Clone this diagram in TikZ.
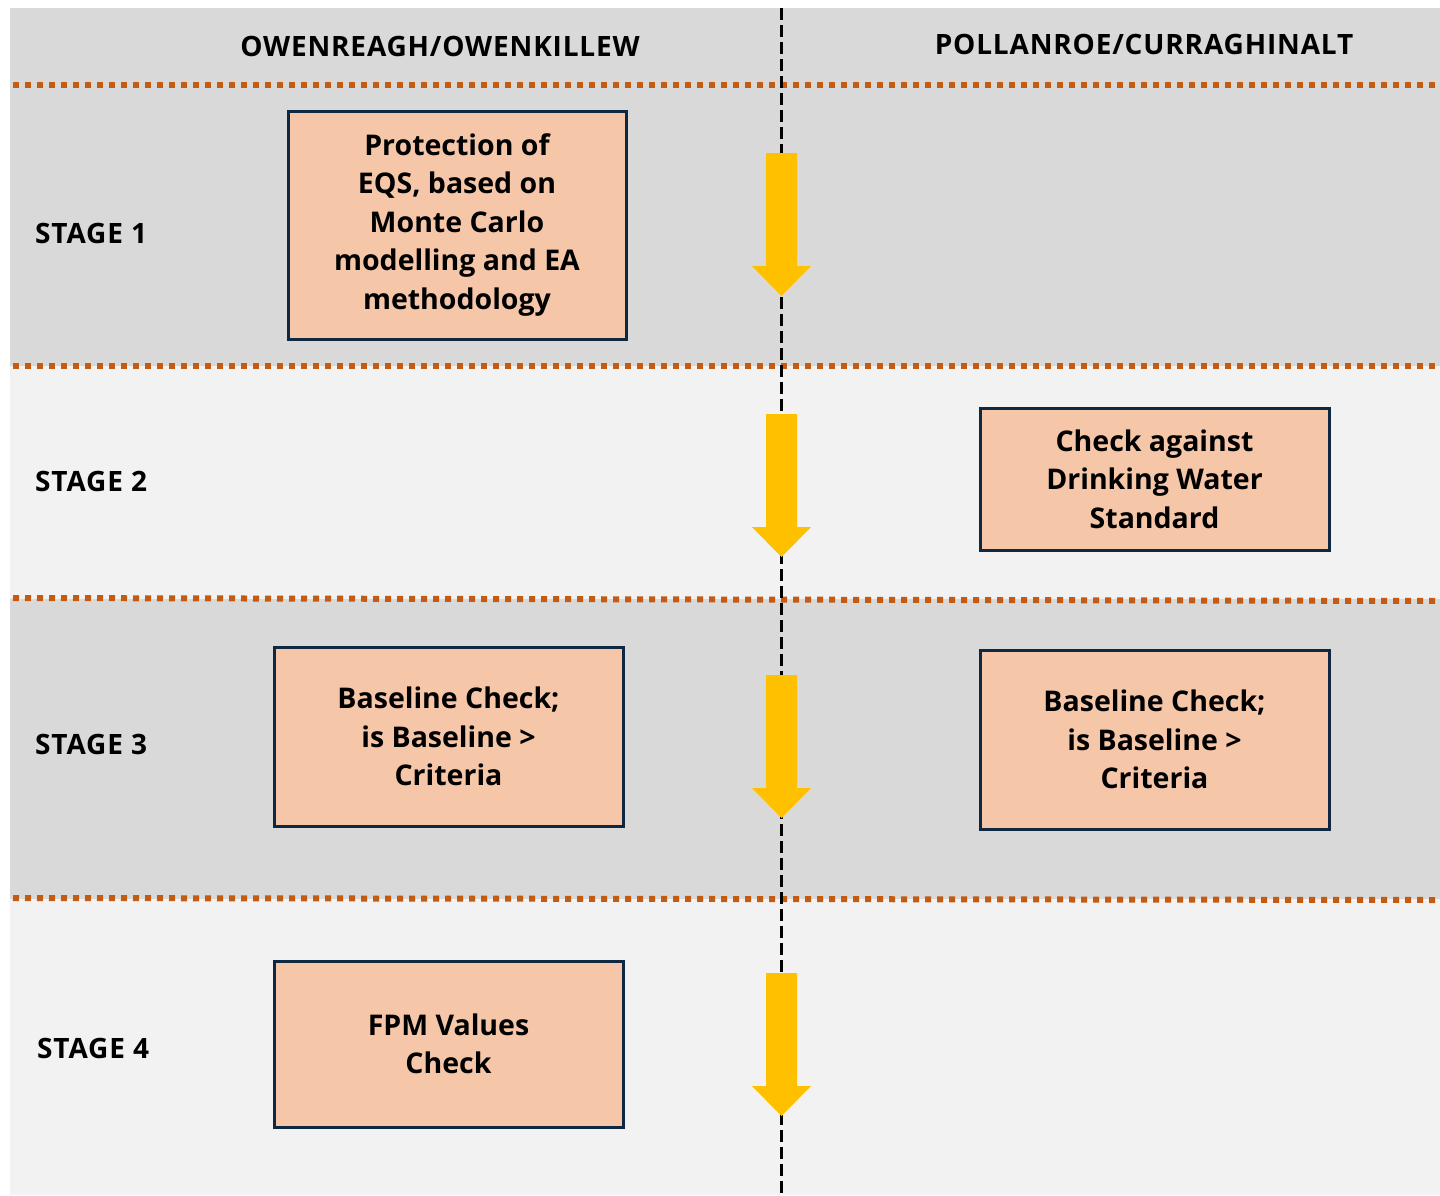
\documentclass[tikz,border=0pt]{standalone}
\usepackage{fontspec}
\setmainfont{Open Sans}
\newfontfamily\hdrfont[LetterSpace=3]{Open Sans}
\definecolor{bandA}{HTML}{D9D9D9}
\definecolor{bandB}{HTML}{F2F2F2}
\definecolor{dotc}{HTML}{C55A11}
\definecolor{boxfill}{HTML}{F6C6A8}
\definecolor{boxline}{HTML}{0E2841}
\definecolor{arrowc}{HTML}{FFC000}
\tikzset{
  sep/.style={draw=dotc, line width=6pt, dash pattern=on 6pt off 6pt},
  stagebox/.style={draw=boxline, line width=3pt, fill=boxfill, align=center, inner sep=0pt,
     font=\fontsize{28.5}{38.5}\selectfont\bfseries},
  lbl/.style={font=\hdrfont\fontsize{28}{30}\selectfont\bfseries, inner sep=0pt},
  flow/.style={fill=arrowc, draw=none},
}
\begin{document}
\begin{tikzpicture}[x=1pt,y=-1pt]
\useasboundingbox (0,0) rectangle (1440,1195);
\fill[white] (0,0) rectangle (1440,1195);
% bands
\fill[bandA] (10,8) rectangle (1440,85);
\fill[bandA] (10,85) rectangle (1440,366);
\fill[bandB] (10,366) rectangle (1440,599);
\fill[bandA] (10,599) rectangle (1440,899);
\fill[bandB] (10,899) rectangle (1440,1195);
% separators
\draw[sep] (13,85) -- (1440,85);
\draw[sep] (13,366) -- (1440,366);
\draw[sep] (13,598) -- (1440,601);
\draw[sep] (13,898) -- (1440,900);
% vertical divider
\draw[black, line width=3pt, dash pattern=on 12pt off 5pt] (781.5,8) -- (781.5,1195);
% headers
\node[lbl] (h1) at (440,46) {OWENREAGH/OWENKILLEW};
\node[lbl] (h2) at (1144,44) {POLLANROE/CURRAGHINALT};
% stage labels
\node[lbl, anchor=west] (s1) at (35,233) {STAGE 1};
\node[lbl, anchor=west] (s2) at (35,481) {STAGE 2};
\node[lbl, anchor=west] (s3) at (35,744) {STAGE 3};
\node[lbl, anchor=west] (s4) at (37,1048) {STAGE 4};
% arrows
\foreach \t in {153,414,675,973}{
  \fill[flow] (766,\t) -- (797,\t) -- (797,\t+113) -- (811,\t+113) -- (781.5,\t+143) -- (752,\t+113) -- (766,\t+113) -- cycle;
}
% boxes
\node[stagebox, minimum width=338pt, minimum height=228pt] (b1) at (457,225)
  {Protection of\\EQS, based on\\Monte Carlo\\modelling and EA\\methodology};
\node[stagebox, minimum width=349pt, minimum height=142pt] (b2) at (1154.5,479)
  {Check against\\Drinking Water\\Standard};
\node[stagebox, minimum width=349pt, minimum height=179pt] (b3) at (448.5,736.5)
  {Baseline Check;\\is Baseline >\\Criteria};
\node[stagebox, minimum width=349pt, minimum height=179pt] (b3r) at (1154.5,739.5)
  {Baseline Check;\\is Baseline >\\Criteria};
\node[stagebox, minimum width=349pt, minimum height=166pt] (b4) at (448.5,1044)
  {FPM Values\\Check};
\end{tikzpicture}
\end{document}
